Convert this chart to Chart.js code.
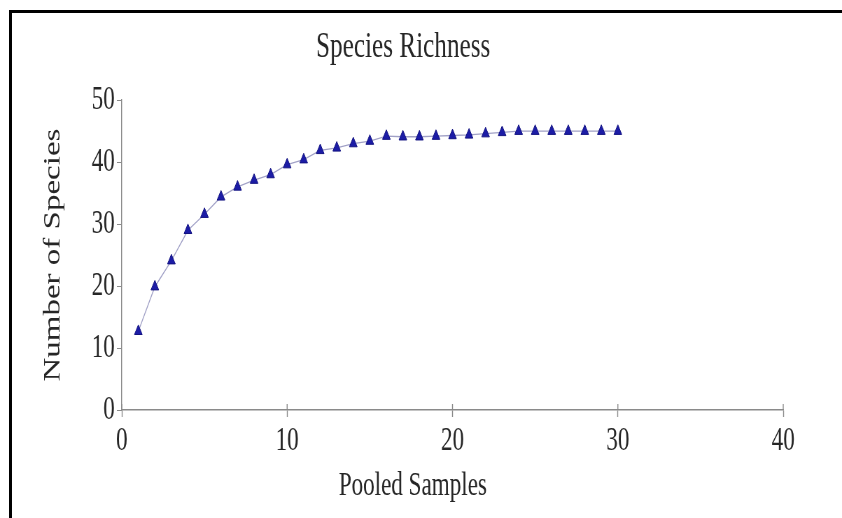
<!DOCTYPE html>
<html>
<head>
<meta charset="utf-8">
<script src="https://cdn.jsdelivr.net/npm/chart.js@4"></script>
<style>
  body { margin: 0; background: #fff; }
  #wrap { position: relative; width: 842px; height: 518px; overflow: hidden; }
  #frame { position: absolute; left: 9px; top: 10px; right: -10px; bottom: -10px;
           border-left: 3px solid #000; border-top: 3px solid #000; }
  #chart { position: absolute; left: 0; top: 0; }
</style>
</head>
<body>
<div id="wrap">
  <div id="frame"></div>
  <canvas id="chart" width="1203" height="518" style="width:842px;height:518px"></canvas>
</div>
<script>
// data
const samples = [1, 2, 3, 4, 5, 6, 7, 8, 9, 10, 11, 12, 13, 14, 15,
                 16, 17, 18, 19, 20, 21, 22, 23, 24, 25, 26, 27, 28, 29, 30];
const species = [12.7, 19.9, 24.1, 29, 31.6, 34.4, 36, 37.1, 38, 39.6, 40.4, 41.9, 42.3, 43, 43.4,
                 44.2, 44.1, 44.1, 44.2, 44.3, 44.4, 44.6, 44.8, 45, 45, 45, 45, 45, 45, 45];
const xTicks = [0, 10, 20, 30, 40];
const yTicks = [0, 10, 20, 30, 40, 50];

const serif = 'Liberation Serif';
const txt = '#262626';
const axisGrey = '#8a8a8a';

// the canvas is drawn wider and squeezed by css, like the condensed original
const points = samples.map((s, i) => ({x: s, y: species[i]}));

// x caption sits a bit left of the axis middle in the original
const xCaption = {
  id: 'xCaption',
  afterDraw(chart, args, opts) {
    const {ctx, scales: {x}} = chart;
    ctx.save();
    ctx.font = opts.size + 'px ' + serif;
    ctx.fillStyle = txt;
    ctx.textAlign = 'center';
    ctx.textBaseline = 'middle';
    ctx.fillText(opts.text, x.getPixelForValue(opts.at), x.bottom - opts.fromBottom);
    ctx.restore();
  }
};

// x ticks cross the axis line in the original
const crossTicks = {
  id: 'crossTicks',
  afterDraw(chart) {
    const {ctx, scales: {x}} = chart;
    ctx.save();
    ctx.strokeStyle = axisGrey;
    ctx.lineWidth = 1.4;
    x.ticks.forEach(t => {
      const px = x.getPixelForValue(t.value);
      ctx.beginPath();
      ctx.moveTo(px, x.top - 6);
      ctx.lineTo(px, x.top);
      ctx.stroke();
    });
    ctx.restore();
  }
};

const config = {
  type: 'scatter',
  data: {
    datasets: [{
      label: 'Species',
      data: points,
      showLine: true,
      borderColor: '#a0a0c6',
      borderWidth: 1.3,
      pointStyle: 'triangle',
      pointRadius: 6.4,
      pointBackgroundColor: '#1c1ca6',
      pointBorderColor: '#121280',
      pointBorderWidth: 1
    }]
  },
  options: {
    responsive: false,
    animation: false,
    layout: {padding: {left: 33, right: 84, top: 10, bottom: 0}},
    plugins: {
      legend: {display: false},
      tooltip: {enabled: false},
      title: {
        display: true,
        text: 'Species Richness',
        color: txt,
        font: {family: serif, size: 36, weight: 'normal'},
        padding: {top: 16, bottom: 31}
      },
      xCaption: {text: 'Pooled Samples', size: 33, at: 17.6, fromBottom: 32}
    },
    scales: {
      x: {
        type: 'linear',
        min: 0, max: 40,
        afterBuildTicks: (s) => { s.ticks = xTicks.map(v => ({value: v})); },
        afterFit: (s) => { s.height = 108; },
        grid: {drawOnChartArea: false, color: axisGrey, tickLength: 7, tickWidth: 1.4},
        border: {color: axisGrey, width: 1.4},
        ticks: {color: txt, padding: 5, font: {family: serif, size: 33}}
      },
      y: {
        min: 0, max: 50,
        afterBuildTicks: (s) => { s.ticks = yTicks.map(v => ({value: v})); },
        afterFit: (s) => { s.width = 141; },
        grid: {drawOnChartArea: false, color: axisGrey, tickLength: 7, tickWidth: 1},
        border: {color: axisGrey, width: 1.4},
        ticks: {color: txt, padding: 3, font: {family: serif, size: 33}},
        title: {
          display: true,
          text: 'Number of Species',
          color: txt,
          font: {family: serif, size: 33},
          padding: {top: 24, bottom: 0}
        }
      }
    }
  },
  plugins: [xCaption, crossTicks]
};

const richness = new Chart(document.getElementById('chart'), config);
</script>
</body>
</html>
